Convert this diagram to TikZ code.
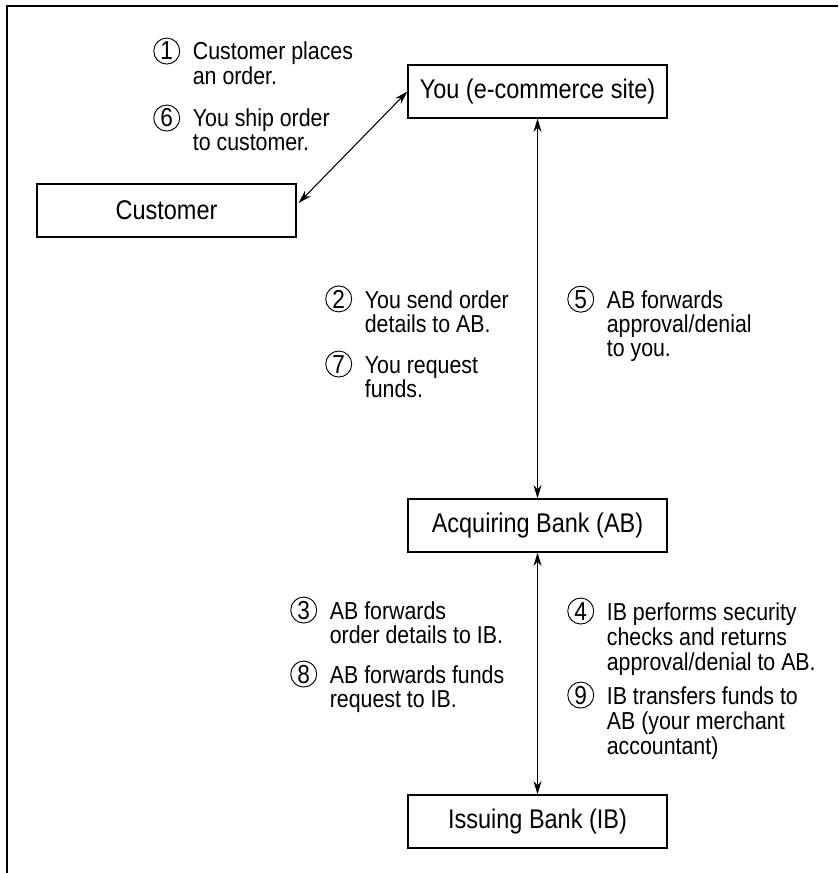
\documentclass[tikz,border=0pt]{standalone}
\usepackage{fontspec}
\setmainfont{Liberation Sans}[FakeStretch=0.87]
\usetikzlibrary{arrows.meta,calc}
\newcommand\cnum[1]{\tikz[baseline=(cn.base)]\node[circle,draw,line width=0.7pt,inner sep=0pt,minimum size=19.5pt,font=\fontsize{19.5}{19.5}\selectfont](cn){#1};}
\newcommand\notetab[2]{\begin{tabular}[t]{@{}l@{\hspace{9.5pt}}l@{}}\cnum{#1} & #2\end{tabular}}
\begin{document}
\begin{tikzpicture}[x=0.75pt,y=-0.75pt,
  box/.style={draw,line width=0.9pt,minimum width=194.25pt,minimum height=39.75pt,inner sep=0pt,font=\fontsize{20.25}{24}\selectfont},
  note/.style={anchor=base west,inner sep=0pt,font=\fontsize{18.4}{18}\selectfont},
  link/.style={line width=0.8pt,{Stealth[length=10pt,width=6pt]}-{Stealth[length=10pt,width=6pt]}}]
\useasboundingbox (0,0) rectangle (838,873);
\draw[line width=1.2pt] (7,873) -- (7,6) -- (838,6);
\node[box] (you) at (537.5,91.5) {You (e-commerce site)};
\node[box] (cust) at (166.5,210.5) {Customer};
\node[box] (ab) at (537.5,525.5) {Acquiring Bank (AB)};
\node[box] (ib) at (537.5,821.5) {Issuing Bank (IB)};
\draw[link] ($(cust.east)+(2,-7.5)$) -- (you.west);
\draw[link] (you.south) -- (ab.north);
\draw[link] (ab.south) -- (ib.north);
\node[note] (n1) at (153,60) {\notetab{1}{Customer places\\ & an order.}};
\node[note] (n6) at (153,127) {\notetab{6}{You ship order\\ & to customer.}};
\node[note] (n2) at (325,308) {\notetab{2}{You send order\\ & details to AB.}};
\node[note] (n7) at (325,373) {\notetab{7}{You request\\ & funds.}};
\node[note] (n5) at (567,308) {\notetab{5}{AB forwards\\ & approval/denial\\ & to you.}};
\node[note] (n3) at (290,619) {\notetab{3}{AB forwards\\ & order details to IB.}};
\node[note] (n8) at (290,683) {\notetab{8}{AB forwards funds\\ & request to IB.}};
\node[note] (n4) at (567,620) {\renewcommand\arraystretch{1.04}\notetab{4}{IB performs security\\ & checks and returns\\ & approval/denial to AB.}};
\node[note] (n9) at (567,704) {\renewcommand\arraystretch{1.04}\notetab{9}{IB transfers funds to\\ & AB (your merchant\\ & accountant)}};
\end{tikzpicture}
\end{document}
